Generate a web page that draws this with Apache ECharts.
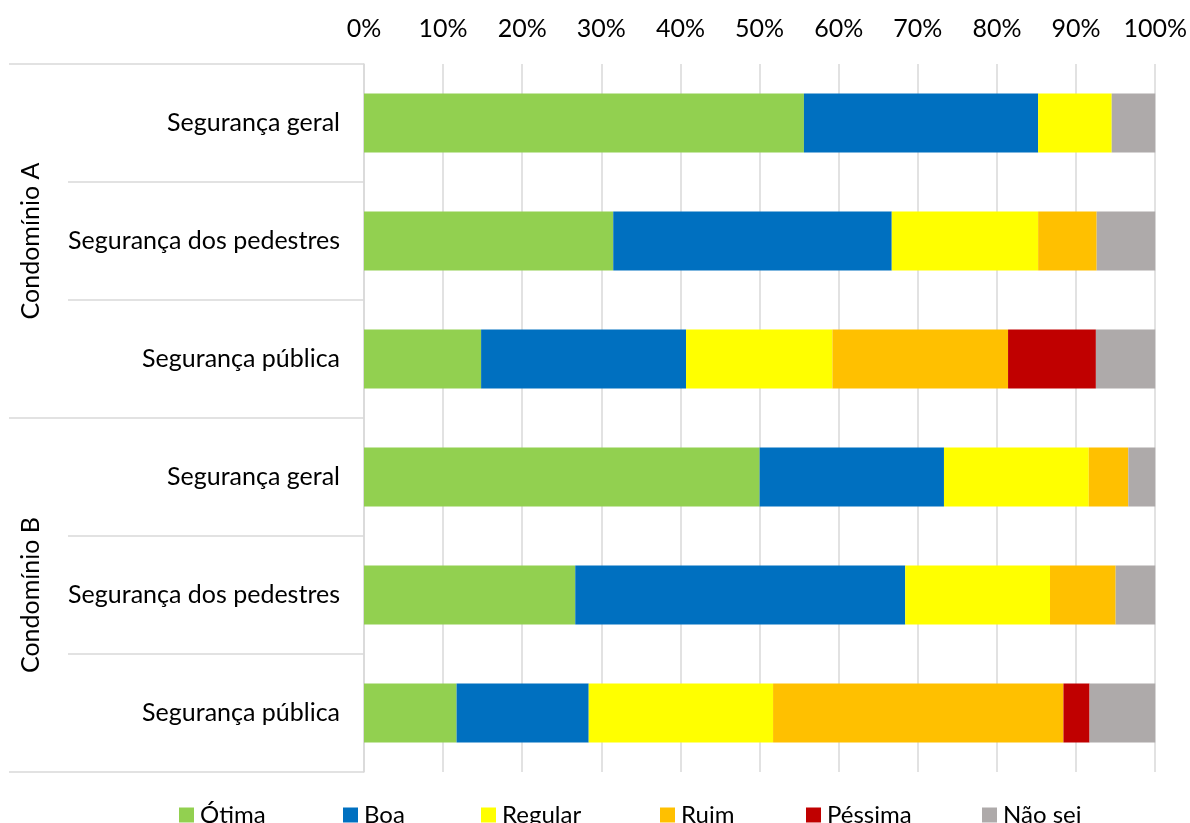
<!DOCTYPE html>
<html>
<head>
<meta charset="utf-8">
<script src="https://cdn.jsdelivr.net/npm/echarts@6/dist/echarts.min.js"></script>
<style>html,body{margin:0;padding:0;background:#fff}#c{width:1190px;height:823px}</style>
</head>
<body>
<div id="c"></div>
<script>
const categories = ['Segurança geral','Segurança dos pedestres','Segurança pública','Segurança geral','Segurança dos pedestres','Segurança pública'];
const groups = ['Condomínio A','Condomínio B'];
const seriesNames = ['Ótima','Boa','Regular','Ruim','Péssima','Não sei'];
const otima   = [55.6, 31.5, 14.8, 50.0, 26.7, 11.7];
const boa     = [29.6, 35.2, 25.9, 23.3, 41.7, 16.7];
const regular = [9.3, 18.5, 18.5, 18.3, 18.3, 23.3];
const ruim    = [0, 7.4, 22.2, 5.0, 8.3, 36.7];
const pessima = [0, 0, 11.1, 0, 0, 3.3];
const naoSei  = [5.5, 7.4, 7.5, 3.4, 5.0, 8.3];
const xTicks = [0,10,20,30,40,50,60,70,80,90,100];

const colors = ['#92D050','#0070C0','#FFFF00','#FFC000','#C00000','#AEAAAA'];
const values = [otima, boa, regular, ruim, pessima, naoSei];
const FONT = 'Lato';
const legendLeft = [179, 343, 481, 660, 806, 982];

const chart = echarts.init(document.getElementById('c'), null, {renderer:'canvas'});
chart.setOption({
  animation: false,
  color: colors,
  textStyle: {fontFamily: FONT, color: '#000'},
  grid: {left: 364, right: 29, top: 64, bottom: 51, containLabel: false},
  legend: seriesNames.map((n, i) => ({
    data: [n], left: legendLeft[i], top: 803, icon: 'rect', padding: 0,
    itemWidth: 15, itemHeight: 15, itemGap: 0,
    textStyle: {fontFamily: FONT, fontSize: 24, color: '#000', padding: [0,0,0,1]}
  })),
  xAxis: {
    type: 'value', position: 'top', min: 0, max: 100, interval: 10,
    axisLine: {show: false}, axisTick: {show: false},
    axisLabel: {formatter: v => xTicks.includes(v) ? v + '%' : '', fontSize: 25, color: '#000', margin: 23, fontFamily: FONT},
    splitLine: {lineStyle: {color: '#D9D9D9', width: 1.5}}
  },
  yAxis: [
    {
      type: 'category', data: categories, inverse: true,
      axisLine: {show: true, lineStyle: {color: '#D9D9D9', width: 1.5}},
      axisTick: {show: true, length: 296, lineStyle: {color: '#D9D9D9', width: 1.5}},
      axisLabel: {fontSize: 25, color: '#000', margin: 24, fontFamily: FONT}
    },
    {
      type: 'category', data: groups, inverse: true, position: 'left', offset: 296,
      axisLine: {show: false},
      axisTick: {show: true, length: 59, lineStyle: {color: '#D9D9D9', width: 1.5}},
      axisLabel: {fontSize: 25, color: '#000', margin: 25, rotate: 90, fontFamily: FONT}
    }
  ],
  series: seriesNames.map((n, i) => ({
    name: n, type: 'bar', stack: 'total', yAxisIndex: 0,
    barWidth: '50%', data: values[i], itemStyle: {color: colors[i]}
  }))
});
</script>
</body>
</html>
